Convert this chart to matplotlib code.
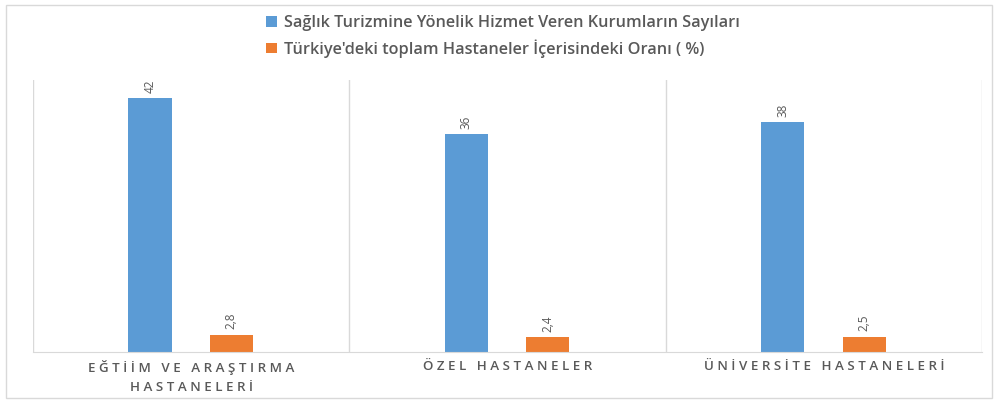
import matplotlib
matplotlib.use("Agg")
import matplotlib.pyplot as plt
from matplotlib.patches import Rectangle

plt.rcParams['font.family'] = ['Open Sans', 'DejaVu Sans']

# --- veri ---
kategoriler = ["EĞTİİM VE ARAŞTIRMA\nHASTANELERİ", "ÖZEL HASTANELER", "ÜNİVERSİTE HASTANELERİ"]
kurum_sayisi = [42, 36, 38]
oran = [2.8, 2.4, 2.5]
seri_adlari = ["Sağlık Turizmine Yönelik Hizmet Veren Kurumların Sayıları",
               "Türkiye'deki toplam Hastaneler İçerisindeki Oranı ( %)"]

MAVI = '#5B9BD5'
TURUNCU = '#ED7D31'
GRI = '#595959'


def aralikli(s):
    # harfler arasi bosluk (Excel tarzi genis harf araligi)
    return "\n".join(" ".join(satir) for satir in s.split("\n"))


fig = plt.figure(figsize=(9.98, 4.03), dpi=100)
ax = fig.add_axes([0.033, 0.1266, 0.951, 0.675])

x = list(range(len(kategoriler)))
w = 0.136
b1 = ax.bar([i - 0.13 for i in x], kurum_sayisi, w, color=MAVI, label=seri_adlari[0])
b2 = ax.bar([i + 0.127 for i in x], oran, w, color=TURUNCU, label=seri_adlari[1])

for bars, vals in ((b1, kurum_sayisi), (b2, oran)):
    for r, v in zip(bars, vals):
        ax.annotate(f"{v}".replace(".", ","), (r.get_x() + r.get_width() / 2, r.get_height()),
                    xytext=(0, 4), textcoords='offset points', rotation=90,
                    ha='center', va='bottom', fontsize=8.5, color=GRI)

ax.set_xlim(-0.5, 2.5)
ax.set_ylim(0, 45)
ax.set_yticks([])
ax.set_xticks(x)
ax.set_xticklabels([aralikli(k) for k in kategoriler], fontsize=9.6, color=GRI,
                   fontweight='semibold', linespacing=1.6)
ax.tick_params(axis='x', length=0, pad=6)
for xv in (-0.5, 0.5, 1.5, 2.5):
    ax.axvline(xv, color='#D9D9D9', lw=1)
for s in ('top', 'left', 'right'):
    ax.spines[s].set_visible(False)
ax.spines['bottom'].set_color('#D9D9D9')

fig.legend(loc='upper left', bbox_to_anchor=(0.252, 0.999), frameon=False,
           prop={'size': 11.7, 'weight': 'semibold'}, labelcolor=GRI,
           handlelength=0.65, handleheight=0.65,
           handletextpad=0.45, labelspacing=0.5)

fig.patches.append(Rectangle((0.006, 0.012), 0.988, 0.976, transform=fig.transFigure,
                             fill=False, edgecolor='#D9D9D9', lw=1))

fig.savefig("out.png", dpi=100)
